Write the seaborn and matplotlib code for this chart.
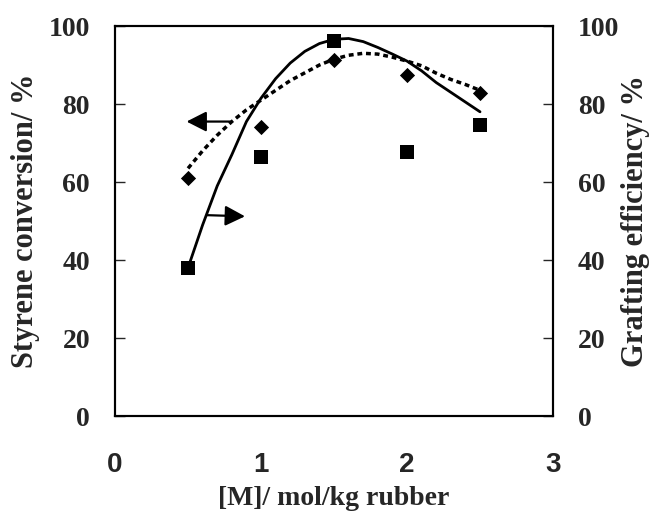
import matplotlib
matplotlib.use('Agg')
import matplotlib.pyplot as plt
import seaborn as sns
import pandas as pd

# measured points
conc = [0.5, 1.0, 1.5, 2.0, 2.5]
conversion = [61.0, 74.2, 91.2, 87.4, 82.8]
grafting = [38.0, 66.5, 96.2, 67.8, 74.6]

# smooth curves
curve_x = [0.5, 0.6, 0.7, 0.8, 0.9, 1.0, 1.1, 1.2, 1.3, 1.4, 1.5,
           1.6, 1.7, 1.8, 1.9, 2.0, 2.1, 2.2, 2.3, 2.4, 2.5]
conv_curve = [63.5, 68.0, 72.0, 75.5, 78.5, 81.0, 83.5, 86.0, 88.0, 90.0, 91.5,
              92.5, 93.0, 92.8, 92.0, 91.0, 89.8, 87.9, 86.3, 85.0, 83.5]
graft_curve = [38.0, 49.0, 59.0, 67.0, 75.5, 81.5, 86.5, 90.5, 93.5, 95.5, 96.6,
               96.8, 96.0, 94.5, 92.8, 91.0, 88.5, 85.5, 83.0, 80.5, 78.0]

pts = pd.DataFrame({'x': conc, 'conv': conversion, 'graft': grafting})
crv = pd.DataFrame({'x': curve_x, 'conv': conv_curve, 'graft': graft_curve})

sns.set_style('white')
plt.rcParams['font.family'] = ['Liberation Serif', 'DejaVu Serif']
plt.rcParams['font.weight'] = 'bold'

fig = plt.figure(figsize=(6.51, 5.15), dpi=100)
ax = fig.add_axes([0.1767, 0.1922, 0.6728, 0.7573])
ax2 = ax.twinx()

sns.lineplot(data=crv, x='x', y='conv', ax=ax, color='black', lw=2.5,
             linestyle=(0, (1.4, 1.1)), sort=False)
sns.scatterplot(data=pts, x='x', y='conv', ax=ax, marker='D', s=60,
                color='black', edgecolor='black', linewidth=0)
sns.lineplot(data=crv, x='x', y='graft', ax=ax2, color='black', lw=2.0, sort=False)
sns.scatterplot(data=pts, x='x', y='graft', ax=ax2, marker='s', s=90,
                color='black', edgecolor='black', linewidth=0)

for a in (ax, ax2):
    a.set_xlim(0, 3)
    a.set_ylim(0, 100)
    a.set_yticks([0, 20, 40, 60, 80, 100])
    a.tick_params(axis='y', direction='in', length=7, width=1, pad=18, labelsize=20)
    for s in a.spines.values():
        s.set_linewidth(1.5)
        s.set_color('black')

ax.set_xticks([0, 1, 2, 3])
ax.tick_params(axis='x', direction='in', length=7, width=1, pad=26, labelsize=20)
for lab in ax.get_xticklabels():
    lab.set_fontfamily(['Liberation Sans', 'DejaVu Sans'])
    lab.set_fontweight('bold')

ax.set_xlabel('[M]/ mol/kg rubber', fontsize=20, fontweight='bold', labelpad=6)
ax.set_ylabel('Styrene conversion/ %', fontsize=22, fontweight='bold', labelpad=6)
ax2.set_ylabel('Grafting efficiency/ %', fontsize=22, fontweight='bold', labelpad=1)

# arrows pointing to each curve's axis
arr = dict(arrowstyle='-|>,head_length=0.55,head_width=0.28', color='black',
           lw=1.6, mutation_scale=22, shrinkA=0, shrinkB=0)
ax.annotate('', xy=(0.49, 75.5), xytext=(0.79, 75.5), arrowprops=arr)
ax.annotate('', xy=(0.89, 51.2), xytext=(0.63, 51.5), arrowprops=arr)

fig.savefig('out.png', dpi=100)
